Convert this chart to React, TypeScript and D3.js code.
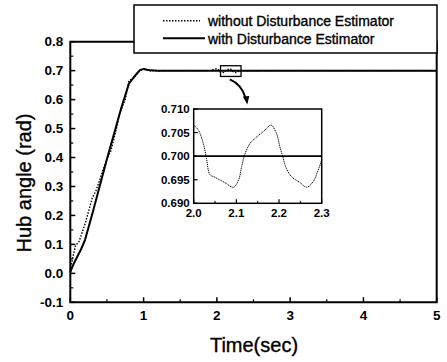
import * as d3 from 'd3';

// main plot: with disturbance estimator (solid)
const timeWith = [0, 0.05, 0.1, 0.15, 0.2, 0.3, 0.4, 0.5, 0.6, 0.7, 0.8, 0.85, 0.9, 0.95, 1.0, 1.05, 1.1, 1.2, 1.6, 2.0, 2.5, 3.0, 3.5, 4.0, 4.5, 5.0];
const angleWith = [0.005, 0.035, 0.06, 0.085, 0.115, 0.205, 0.3, 0.395, 0.485, 0.575, 0.655, 0.672, 0.688, 0.702, 0.706, 0.703, 0.701, 0.7, 0.7, 0.7, 0.7, 0.7, 0.7, 0.7, 0.7, 0.7];

// main plot: without disturbance estimator (dotted), ramp part
const timeWithout = [0, 0.03, 0.07, 0.12, 0.2, 0.3, 0.35, 0.45, 0.5, 0.55, 0.63, 0.67, 0.75, 0.8, 0.87, 0.95, 1.0, 1.05, 1.1, 1.3, 1.6, 1.9];
const angleWithout = [0.01, 0.05, 0.095, 0.11, 0.17, 0.26, 0.285, 0.36, 0.395, 0.42, 0.5, 0.55, 0.6, 0.665, 0.675, 0.7, 0.706, 0.703, 0.699, 0.7, 0.7, 0.7];
const timeWithoutTail = [2.6, 3.0, 3.5, 4.0, 4.5, 5.0];
const angleWithoutTail = [0.7, 0.7, 0.7, 0.7, 0.7, 0.7];

// inset (2.0 - 2.3 s)
const insetTime = [2.0, 2.011, 2.0225, 2.03, 2.038, 2.05, 2.073, 2.093, 2.105, 2.1125, 2.12, 2.132, 2.148, 2.167, 2.181, 2.194, 2.202, 2.21, 2.217, 2.23, 2.249, 2.265, 2.28, 2.292, 2.3];
const insetWithout = [0.7066, 0.7055, 0.7027, 0.6995, 0.6961, 0.6955, 0.6944, 0.6934, 0.6949, 0.6978, 0.7004, 0.7027, 0.7041, 0.7055, 0.7066, 0.7048, 0.702, 0.6995, 0.6974, 0.6956, 0.6944, 0.6934, 0.6946, 0.6971, 0.6992];
const insetWithLevel = 0.7;

const xTicks = [0, 1, 2, 3, 4, 5];
const xMinor = [0.5, 1.5, 2.5, 3.5, 4.5];
const yTicks = [-0.1, 0, 0.1, 0.2, 0.3, 0.4, 0.5, 0.6, 0.7, 0.8];
const yMinor = [-0.05, 0.05, 0.15, 0.25, 0.35, 0.45, 0.55, 0.65, 0.75];
const insetXTicks = [2.0, 2.1, 2.2, 2.3];
const insetXMinor = [2.05, 2.15, 2.25];
const insetYTicks = [0.69, 0.695, 0.7, 0.705, 0.71];

const seriesNames = ['without Disturbance Estimator', 'with Disturbance Estimator'];
const zoomT = [2.05, 2.33];
const zoomV = [0.68, 0.717];

const FONT = '"Liberation Sans", Arial, Helvetica, sans-serif';

export default function App() {
  const x = d3.scaleLinear().domain([0, 5]).range([70.3, 436.7]);
  const y = d3.scaleLinear().domain([-0.1, 0.8]).range([302.3, 41.7]);
  const ix = d3.scaleLinear().domain([2.0, 2.3]).range([193.7, 321.7]);
  const iy = d3.scaleLinear().domain([0.69, 0.71]).range([203.3, 109]);

  const line = d3.line<[number, number]>().x(d => x(d[0])).y(d => y(d[1]));
  const iline = d3.line<[number, number]>().x(d => ix(d[0])).y(d => iy(d[1])).curve(d3.curveCatmullRom.alpha(0.5));

  const withPts = timeWith.map((t, i) => [t, angleWith[i]] as [number, number]);
  const withoutPts = [
    ...timeWithout.map((t, i) => [t, angleWithout[i]]),
    ...insetTime.map((t, i) => [t, insetWithout[i]]),
    ...timeWithoutTail.map((t, i) => [t, angleWithoutTail[i]]),
  ] as [number, number][];
  const insetPts = insetTime.map((t, i) => [t, insetWithout[i]] as [number, number]);

  const [x0, x1] = x.range();
  const [y0, y1] = y.range();
  const [ix0, ix1] = ix.range();
  const [iy0, iy1] = iy.range();

  // zoom marker and arrow
  const mx0 = x(zoomT[0]), mx1 = x(zoomT[1]);
  const my0 = y(zoomV[1]), my1 = y(zoomV[0]);
  const ax = (mx0 + mx1) / 2 - 1;
  const ay = my1 + 3;

  const heavy = { stroke: '#000', strokeWidth: 0.35 };

  return (
    <svg width={447} height={362} style={{ position: 'absolute', left: 0, top: 0, background: '#fff' }}>
      <rect width={447} height={362} fill="#fff" />

      {/* main frame */}
      <path d={`M${x0},${y1}V${y0}H${x1}V${y1}Z`} fill="none" stroke="#000" strokeWidth={2} />

      {/* y ticks */}
      {yTicks.map(v => (
        <g key={'y' + v}>
          <line x1={x0} x2={x0 + 5} y1={y(v)} y2={y(v)} stroke="#000" strokeWidth={1.5} />
          <text x={x0 - 7} y={y(v) + 4.5} textAnchor="end" fontFamily={FONT} fontWeight="bold" fontSize={13.5}>
            {v.toFixed(1)}
          </text>
        </g>
      ))}
      {yMinor.map(v => (
        <line key={'ym' + v} x1={x0} x2={x0 + 3} y1={y(v)} y2={y(v)} stroke="#000" strokeWidth={1.2} />
      ))}

      {/* x ticks */}
      {xTicks.map(t => (
        <g key={'x' + t}>
          <line x1={x(t)} x2={x(t)} y1={y0} y2={y0 - 5} stroke="#000" strokeWidth={1.5} />
          <text x={x(t)} y={y0 + 18} textAnchor="middle" fontFamily={FONT} fontWeight="bold" fontSize={13.5}>
            {t}
          </text>
        </g>
      ))}
      {xMinor.map(t => (
        <line key={'xm' + t} x1={x(t)} x2={x(t)} y1={y0} y2={y0 - 3} stroke="#000" strokeWidth={1.2} />
      ))}

      {/* axis titles */}
      <text x={254} y={352} textAnchor="middle" fontFamily={FONT} fontSize={20} {...heavy}>Time(sec)</text>
      <text transform="translate(31,183) rotate(-90)" textAnchor="middle" fontFamily={FONT} fontSize={20} {...heavy}>
        Hub angle (rad)
      </text>

      {/* data */}
      <path d={line(withoutPts) ?? ''} fill="none" stroke="#000" strokeWidth={1.4} strokeDasharray="1.5,1.5" />
      <path d={line(withPts) ?? ''} fill="none" stroke="#000" strokeWidth={2} />

      {/* zoom marker + arrow */}
      <rect x={mx0} y={my0} width={mx1 - mx0} height={my1 - my0} fill="none" stroke="#000" strokeWidth={1.3} />
      <path d={`M${ax},${ay} Q${ax + 12},${ay + 5} ${ax + 16},${ay + 19}`} fill="none" stroke="#000" strokeWidth={2} />
      <path d={`M${ax + 13},${ay + 17} L${ax + 19.5},${ay + 16.5} L${ax + 17.5},${ay + 25} Z`} fill="#000" />

      {/* inset */}
      <rect x={ix0} y={iy1} width={ix1 - ix0} height={iy0 - iy1} fill="#fff" stroke="#000" strokeWidth={1.5} />
      {insetYTicks.map(v => (
        <g key={'iy' + v}>
          <line x1={ix0} x2={ix0 + 4} y1={iy(v)} y2={iy(v)} stroke="#000" strokeWidth={1.2} />
          <text x={ix0 - 4} y={iy(v) + 4} textAnchor="end" fontFamily={FONT} fontWeight="bold" fontSize={11.5}>
            {v.toFixed(3)}
          </text>
        </g>
      ))}
      {insetXTicks.map(t => (
        <g key={'ix' + t}>
          <line x1={ix(t)} x2={ix(t)} y1={iy0} y2={iy0 - 4} stroke="#000" strokeWidth={1.2} />
          <text x={ix(t)} y={iy0 + 14} textAnchor="middle" fontFamily={FONT} fontWeight="bold" fontSize={11.5}>
            {t.toFixed(1)}
          </text>
        </g>
      ))}
      {insetXMinor.map(t => (
        <line key={'ixm' + t} x1={ix(t)} x2={ix(t)} y1={iy0} y2={iy0 - 2.5} stroke="#000" strokeWidth={1} />
      ))}
      <line x1={ix0} x2={ix1} y1={iy(insetWithLevel)} y2={iy(insetWithLevel)} stroke="#000" strokeWidth={1.8} />
      <path d={iline(insetPts) ?? ''} fill="none" stroke="#000" strokeWidth={1} strokeDasharray="1.2,0.8" />

      {/* legend */}
      <rect x={134} y={5} width={303} height={48} fill="#fff" stroke="#000" strokeWidth={1.5} />
      <line x1={163} x2={200} y1={20.7} y2={20.7} stroke="#000" strokeWidth={1.4} strokeDasharray="1.5,1.5" />
      <line x1={163} x2={205} y1={38.3} y2={38.3} stroke="#000" strokeWidth={2} />
      <text x={208} y={26} fontFamily={FONT} fontSize={14} {...heavy}>{seriesNames[0]}</text>
      <text x={208} y={43.5} fontFamily={FONT} fontSize={14} {...heavy}>{seriesNames[1]}</text>
    </svg>
  );
}
